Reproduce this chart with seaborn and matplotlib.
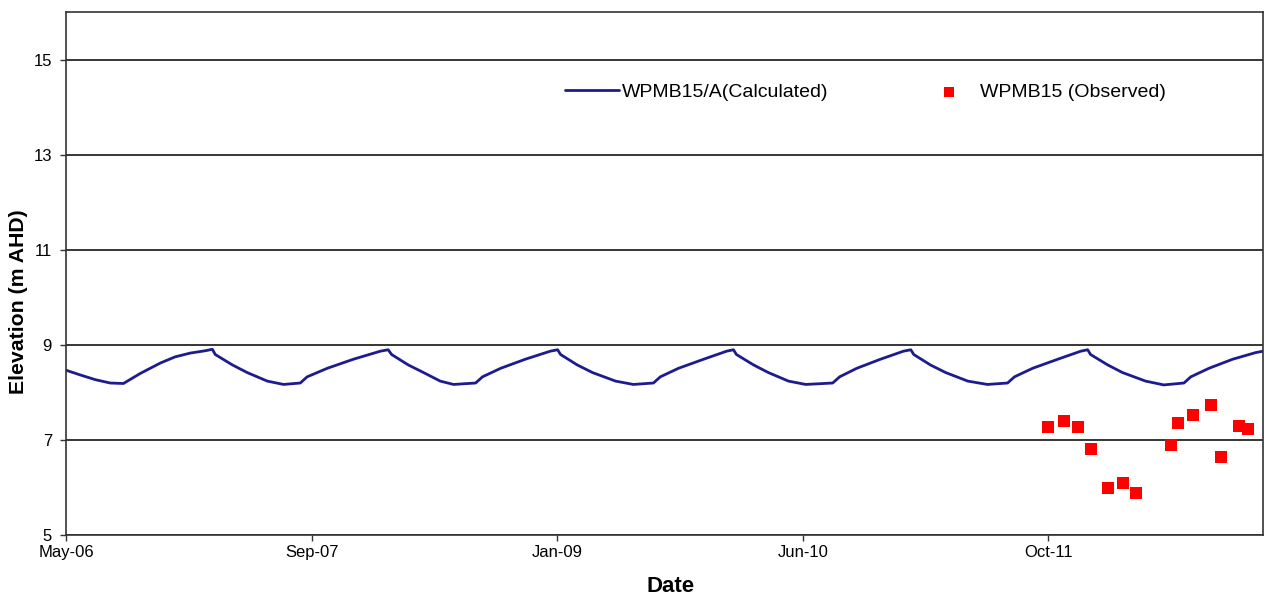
import matplotlib
matplotlib.use('Agg')
import pandas as pd
import matplotlib.pyplot as plt
import seaborn as sns

# ─────────────────────────────────────────
# Data
# ─────────────────────────────────────────
start = pd.Timestamp("2006-05-01")

# calculated head: days since May-06, elevation (m AHD)
calc_day = [0, 29, 60, 90, 117, 151, 192, 222, 253, 284, 298,
            304, 339, 369, 410, 443, 477, 491, 532, 585, 640, 656,
            663, 697, 728, 762, 789, 834, 848, 885, 935, 986, 1001,
            1007, 1041, 1072, 1119, 1155, 1196, 1210, 1247, 1298, 1345, 1359,
            1365, 1400, 1430, 1471, 1506, 1561, 1575, 1610, 1658, 1705, 1720,
            1726, 1760, 1791, 1836, 1876, 1917, 1931, 1968, 2019, 2066, 2080,
            2086, 2121, 2151, 2198, 2235, 2276, 2290, 2327, 2375, 2422, 2437]
calc_level = [8.47, 8.37, 8.27, 8.20, 8.19, 8.40, 8.62, 8.75, 8.83, 8.88, 8.91,
              8.80, 8.58, 8.42, 8.24, 8.17, 8.20, 8.33, 8.51, 8.70, 8.87, 8.90,
              8.80, 8.58, 8.42, 8.24, 8.17, 8.20, 8.33, 8.51, 8.70, 8.87, 8.90,
              8.80, 8.58, 8.42, 8.24, 8.17, 8.20, 8.33, 8.51, 8.70, 8.87, 8.90,
              8.80, 8.58, 8.42, 8.24, 8.17, 8.20, 8.33, 8.51, 8.70, 8.87, 8.90,
              8.80, 8.58, 8.42, 8.24, 8.17, 8.20, 8.33, 8.51, 8.70, 8.87, 8.90,
              8.80, 8.58, 8.42, 8.24, 8.16, 8.20, 8.33, 8.51, 8.70, 8.84, 8.87]

obs_date = ["2011-10-21", "2011-11-22", "2011-12-22", "2012-01-16", "2012-02-20",
            "2012-03-21", "2012-04-18", "2012-06-27", "2012-07-11", "2012-08-12",
            "2012-09-17", "2012-10-08", "2012-11-13", "2012-12-02"]
obs_level = [7.27, 7.41, 7.27, 6.81, 6.00, 6.09, 5.89, 6.89, 7.35, 7.52,
             7.74, 6.65, 7.29, 7.24]

tick_day = [0, 500, 1000, 1500, 2000]
tick_label = ["May-06", "Sep-07", "Jan-09", "Jun-10", "Oct-11"]

df_calc = pd.DataFrame({"date": start + pd.to_timedelta(calc_day, unit="D"),
                        "level": calc_level})
df_obs = pd.DataFrame({"date": pd.to_datetime(obs_date), "level": obs_level})

# ─────────────────────────────────────────
# Chart
# ─────────────────────────────────────────
sns.set_theme(style="white")
plt.rcParams['font.family'] = ['Liberation Sans', 'DejaVu Sans']
plt.rcParams.update({"text.color": "black", "axes.labelcolor": "black",
                     "xtick.color": "black", "ytick.color": "black"})

fig = plt.figure(figsize=(12.71, 5.95), dpi=100)
ax = fig.add_axes([0.0519, 0.1008, 0.9418, 0.8782])

sns.lineplot(data=df_calc, x="date", y="level", ax=ax, color="#1e1b8e",
             linewidth=2.0, label="WPMB15/A(Calculated)")
sns.scatterplot(data=df_obs, x="date", y="level", ax=ax, color="#ff0000",
                marker="s", s=75, linewidth=0, label="WPMB15 (Observed)")

ax.set_ylim(5, 16)
ax.set_yticks([5, 7, 9, 11, 13, 15])
ax.set_xlim(start, start + pd.Timedelta(days=2437))
ax.set_xticks([start + pd.Timedelta(days=d) for d in tick_day])
ax.set_xticklabels(tick_label)

ax.yaxis.grid(True, color="black", linewidth=1.1)
ax.xaxis.grid(False)
for s in ax.spines.values():
    s.set_color("#333333")
    s.set_linewidth(1.2)

ax.tick_params(axis="both", which="both", direction="out", length=4,
               width=1, color="#333333", labelcolor="black", labelsize=12,
               bottom=True, left=True)
ax.tick_params(axis="y", pad=6)
ax.tick_params(axis="x", pad=3)

ax.set_xlabel("Date", fontsize=16, fontweight="bold", color="black")
ax.set_ylabel("Elevation (m AHD)", fontsize=15.3, fontweight="bold", color="black")
ax.xaxis.set_label_coords(0.505, -0.078)
ax.yaxis.set_label_coords(-0.032, 0.446)

leg = ax.legend(loc="center left", bbox_to_anchor=(0.4169, 0.847), ncol=2,
                frameon=False, fontsize=14, handlelength=2.8, handletextpad=0.15,
                columnspacing=4.8, markerscale=0.75, borderpad=0, borderaxespad=0)
for t in leg.get_texts():
    t.set_color("black")

fig.savefig("out.png", dpi=100, facecolor="white")
